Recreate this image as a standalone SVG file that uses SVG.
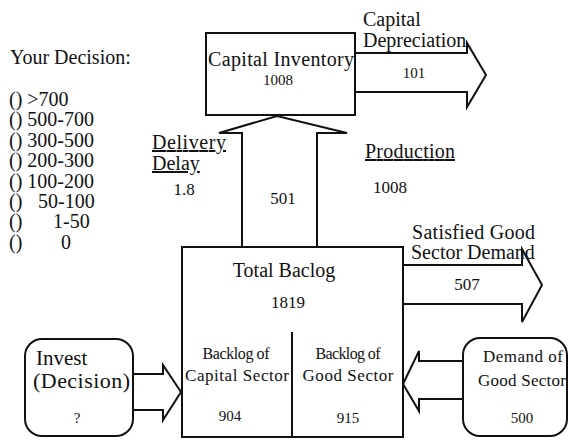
<svg xmlns="http://www.w3.org/2000/svg" width="568" height="440" viewBox="0 0 568 440">
<style>
text{fill:#111}
.box{fill:#fff;stroke:#111;stroke-width:2}
.arr{fill:#fff;stroke:#111;stroke-width:2;stroke-linejoin:miter}
.lbl{font-size:20px}
.mid{font-size:17px}
.sm{font-size:16px}
.num{font-size:15px}
.opt{font-size:20px}
.c{text-anchor:middle}
.u{text-decoration:underline}
</style>
<rect width="568" height="440" fill="#fff"/>
<g font-family="'Liberation Serif','Times New Roman',serif">
<g id="decision-menu">
<text class="opt" x="10" y="64">Your Decision:</text>
<text class="opt" x="9" y="106">() &gt;700</text>
<text class="opt" x="9" y="126">() 500-700</text>
<text class="opt" x="9" y="147">() 300-500</text>
<text class="opt" x="9" y="167">() 200-300</text>
<text class="opt" x="9" y="188">() 100-200</text>
<text class="opt" x="9" y="208">()</text><text class="opt" x="38" y="208">50-100</text>
<text class="opt" x="9" y="228">()</text><text class="opt" x="53" y="228">1-50</text>
<text class="opt" x="9" y="249">()</text><text class="opt" x="61" y="249">0</text>
</g>
<g id="connectors">
<path id="capital-depreciation" class="arr" d="M355,53 H467 V43 L486,75 L467,107 V92 H355"/>
<path id="production" class="arr" d="M242,247 V133 H219 L277,116 L347,133 H317 V247"/>
<path id="satisfied-demand" class="arr" d="M403,265 H522 V249 L542,285 L522,322 V304 H403"/>
<path id="invest-flow" class="arr" d="M133,374 H163 V365 L181,392 L163,420 V410 H133"/>
<path id="demand-flow" class="arr" d="M463,361 H419 V351 L403,384 L419,411 V399 H463"/>
</g>
<g id="capital-inventory">
<rect class="box" x="206" y="33" width="149" height="82"/>
<text class="lbl c" x="281" y="66" textLength="146">Capital Inventory</text>
<text class="num c" x="278" y="85">1008</text>
</g>
<g id="total-backlog">
<rect class="box" x="182" y="247" width="221" height="190"/>
<line x1="292" y1="332" x2="292" y2="437" stroke="#111" stroke-width="2"/>
<text class="lbl c" x="284" y="277">Total Baclog</text>
<text class="mid c" x="288" y="308">1819</text>
<text class="sm c" x="236" y="359" textLength="67">Backlog of</text>
<text class="mid c" x="237" y="381" textLength="104">Capital Sector</text>
<text class="num c" x="230" y="421">904</text>
<text class="sm c" x="348" y="359" textLength="65">Backlog of</text>
<text class="mid c" x="348" y="381" textLength="91">Good Sector</text>
<text class="num c" x="348" y="423">915</text>
</g>
<g id="invest">
<rect class="box" x="25" y="339" width="108" height="97" rx="17"/>
<text x="36" y="365" font-size="21">Invest</text>
<text x="33" y="388" font-size="22" textLength="97">(Decision)</text>
<text class="num c" x="77" y="423">?</text>
</g>
<g id="demand-good">
<rect class="box" x="463" y="338" width="104" height="98" rx="17"/>
<text class="mid c" x="523" y="362" textLength="80">Demand of</text>
<text class="mid c" x="522" y="386" textLength="88">Good Sector</text>
<text class="num c" x="522" y="423">500</text>
</g>
<g id="labels">
<text class="lbl" x="363" y="26">Capital</text>
<text class="lbl" x="363" y="47">Depreciation</text>
<text class="num c" x="414" y="78">101</text>
<text class="lbl u" x="152" y="149" textLength="74">Delivery</text>
<text class="lbl u" x="152" y="170">Delay</text>
<text class="mid c" x="184" y="195">1.8</text>
<text class="mid c" x="283" y="204">501</text>
<text class="lbl u" x="365" y="158" textLength="90">Production</text>
<text class="mid" x="373" y="193">1008</text>
<text class="lbl" x="412" y="239" textLength="123">Satisfied Good</text>
<text class="lbl" x="411" y="259">Sector Demand</text>
<text class="mid c" x="467" y="290">507</text>
</g>
</g>
</svg>
